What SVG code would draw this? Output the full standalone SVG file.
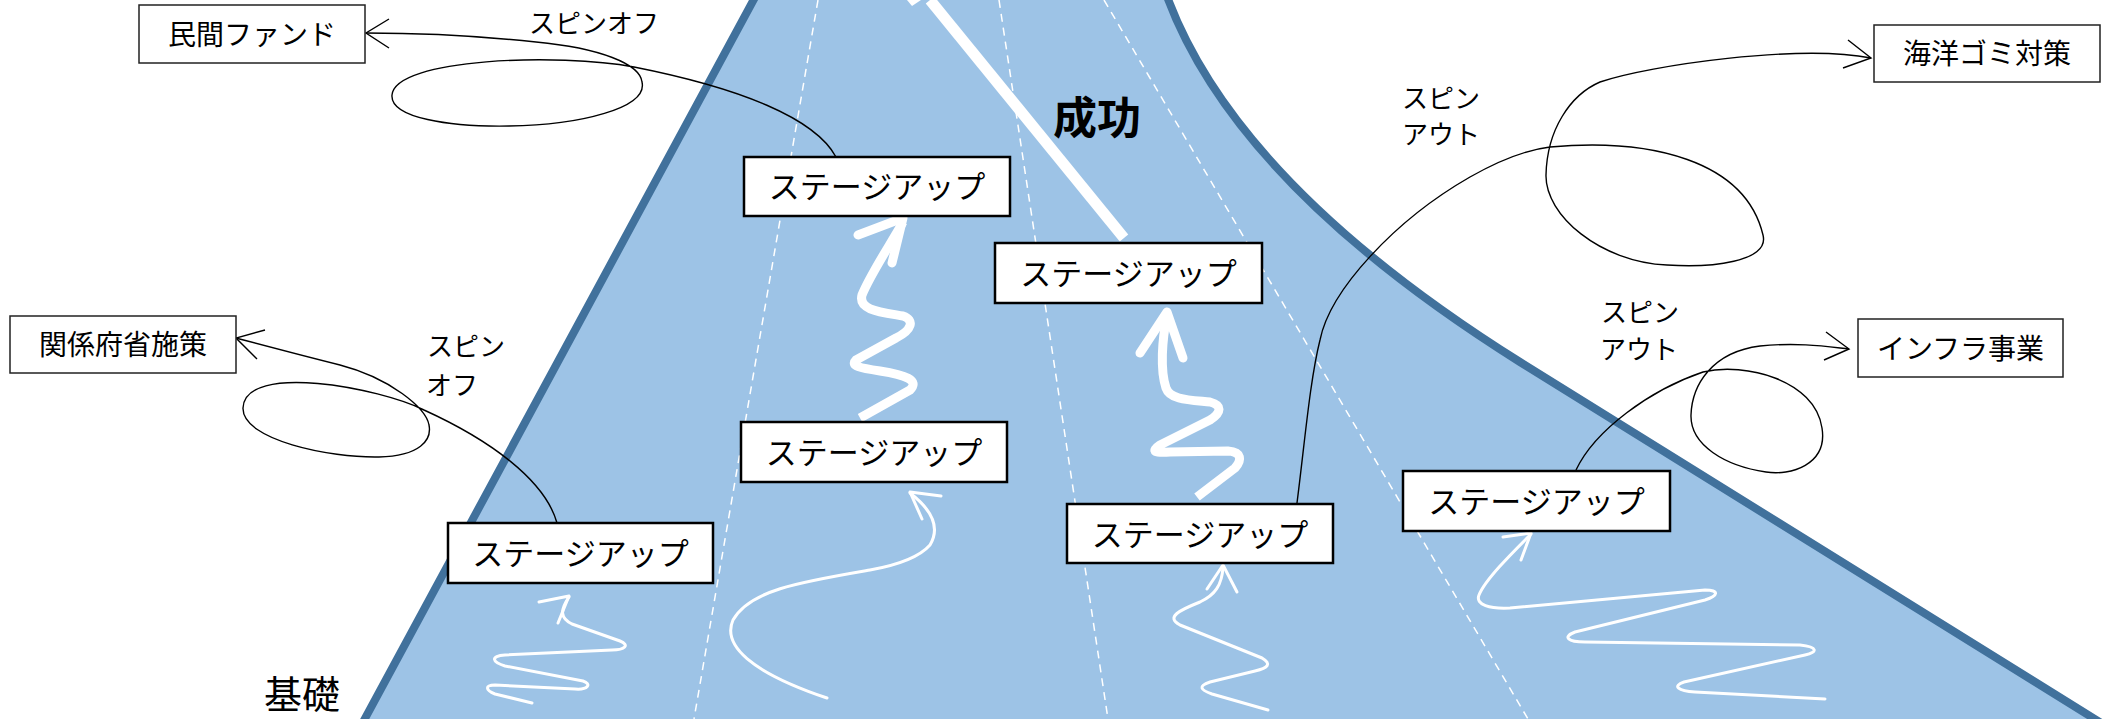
<svg xmlns="http://www.w3.org/2000/svg" width="2109" height="719" viewBox="0 0 2109 719">
<style>
text{font-family:"Noto Sans CJK JP","Liberation Sans",sans-serif;fill:#000}
.stage rect{fill:#fff;stroke:#000;stroke-width:2.5}
.stage text{font-size:31px;text-anchor:middle}
.dest rect{fill:#fff;stroke:#222;stroke-width:1.5}
.dest text{font-size:28px;text-anchor:middle}
.lbl{font-size:26px}
.dash{fill:none;stroke:#fff;stroke-width:1.5;stroke-dasharray:8 6}
.wthin{fill:none;stroke:#fff;stroke-width:3;stroke-linecap:round;stroke-linejoin:round}
.wthick{fill:none;stroke:#fff;stroke-width:9;stroke-linecap:butt;stroke-linejoin:round}
.wthickhead{fill:none;stroke:#fff;stroke-width:9;stroke-linecap:round;stroke-linejoin:round}
.conn{fill:none;stroke:#000;stroke-width:1.4}
</style>
<rect width="2109" height="719" fill="#fff"/>
<g id="mountain">
<path d="M362,724 L760,-12 L1164,-12 Q1230,180 1520,362 L2106,726 Z" fill="#9DC3E6" stroke="#41719C" stroke-width="8" stroke-linejoin="miter"/>
<path class="dash" d="M818,0 L694,719"/>
<path class="dash" d="M999,0 L1108,719"/>
<path class="dash" d="M1104,0 L1528,719"/>
</g>
<g id="success">
<path d="M930,0 L1124,238" stroke="#fff" stroke-width="11" fill="none"/>
<polygon points="907,0 921,0 912,6" fill="#fff"/>
<text x="1053" y="134" font-size="44" font-weight="bold">成功</text>
</g>
<g id="white-arrows">
<path class="wthin" d="M569,597 C560,610 560,618 572,624 L620,641 C630,645 625,650 612,650 L505,655 C490,656 492,662 505,666 L583,681 C592,684 588,690 575,689 L495,685 C485,685 485,690 495,694 L532,703"/>
<path class="wthin" d="M539,602 L569,596 L558,623"/>
<path class="wthin" d="M910,493 Q945,520 930,545 Q915,562 870,570 C800,582 750,590 733,620 C722,645 750,672 827,698"/>
<path class="wthin" d="M941,496 L910,492 L922,519"/>
<path class="wthick" d="M903,222 C890,245 870,275 862,295 C858,310 880,312 903,316 C915,320 912,330 896,338 L856,360 C850,366 860,368 880,371 C905,375 920,380 910,390 L860,418"/>
<path class="wthickhead" d="M858,235 L903,218 L892,263"/>
<path class="wthick" d="M1167,316 C1162,340 1160,370 1166,388 C1170,400 1190,400 1210,402 C1222,405 1222,412 1210,420 L1160,445 C1150,452 1155,453 1170,452 L1228,451 C1242,452 1242,460 1235,468 L1197,497"/>
<path class="wthickhead" d="M1140,353 L1167,312 L1183,358"/>
<path class="wthin" d="M1223,567 C1222,585 1215,595 1200,602 C1180,610 1165,617 1180,625 L1262,658 C1272,664 1268,668 1255,671 L1210,682 C1198,686 1200,690 1212,694 L1268,710"/>
<path class="wthin" d="M1207,589 L1223,565 L1237,592"/>
<path class="wthin" d="M1531,534 C1510,555 1485,580 1479,595 C1475,605 1490,609 1510,608 L1705,590 C1720,590 1718,596 1705,600 L1575,632 C1562,637 1568,642 1585,642 L1800,645 C1818,647 1818,652 1805,655 L1684,682 C1672,686 1678,691 1695,692 L1825,699"/>
<path class="wthin" d="M1503,537 L1531,533 L1521,560"/>
</g>
<g id="connectors">
<path class="conn" d="M836,157 C815,118 740,88 634,67 C560,53 395,58 392,95 C390,118 450,127 509,126 C580,125 648,108 642,82 C640,64 600,48 536,42 C480,36 420,33 366,33"/>
<path class="conn" d="M389,19 L366,33 L389,48"/>
<path class="conn" d="M557,523 C545,480 490,440 424,410 C380,388 245,362 243,408 C242,440 330,458 379,457 C420,456 432,440 429,425 C426,408 390,378 340,365 C300,355 270,347 236,338"/>
<path class="conn" d="M265,330 L236,338 L257,359"/>
<path class="conn" d="M1297,503 C1305,440 1310,380 1320,340 C1330,290 1395,220 1470,177 C1500,160 1525,150 1550,147 C1650,138 1745,160 1763,235 C1770,262 1710,268 1667,265 C1600,262 1545,215 1546,175 C1547,130 1570,95 1600,82 C1650,65 1800,44 1871,58"/>
<path class="conn" d="M1848,40 L1871,58 L1843,68"/>
<path class="conn" d="M1576,470 C1595,430 1650,390 1703,372 C1745,362 1815,380 1822,428 C1828,465 1790,476 1766,472 C1725,466 1690,445 1691,415 C1692,385 1712,352 1760,346 C1800,342 1830,347 1849,349"/>
<path class="conn" d="M1826,332 L1849,349 L1824,360"/>
</g>
<g id="stage-a" class="stage"><rect x="744" y="157" width="266" height="59"/><text x="877" y="198">ステージアップ</text></g>
<g id="stage-b" class="stage"><rect x="995" y="243" width="267" height="60"/><text x="1128.5" y="285">ステージアップ</text></g>
<g id="stage-c" class="stage"><rect x="741" y="422" width="266" height="60"/><text x="874" y="464">ステージアップ</text></g>
<g id="stage-d" class="stage"><rect x="448" y="523" width="265" height="60"/><text x="580.5" y="565">ステージアップ</text></g>
<g id="stage-e" class="stage"><rect x="1067" y="504" width="266" height="59"/><text x="1200" y="545.5">ステージアップ</text></g>
<g id="stage-f" class="stage"><rect x="1403" y="471" width="267" height="60"/><text x="1536.5" y="513">ステージアップ</text></g>
<g id="dest-fund" class="dest"><rect x="139" y="5" width="226" height="58"/><text x="252" y="44.6">民間ファンド</text></g>
<g id="dest-gov" class="dest"><rect x="10" y="316" width="226" height="57"/><text x="123" y="355">関係府省施策</text></g>
<g id="dest-ocean" class="dest"><rect x="1874" y="25" width="226" height="57"/><text x="1987" y="64">海洋ゴミ対策</text></g>
<g id="dest-infra" class="dest"><rect x="1858" y="319" width="205" height="58"/><text x="1960.5" y="358.6">インフラ事業</text></g>
<g id="labels">
<text class="lbl" x="529" y="33">スピンオフ</text>
<text class="lbl" x="427" y="356">スピン</text>
<text class="lbl" x="426" y="395">オフ</text>
<text class="lbl" x="1402" y="108">スピン</text>
<text class="lbl" x="1402" y="144">アウト</text>
<text class="lbl" x="1601" y="322">スピン</text>
<text class="lbl" x="1600" y="359">アウト</text>
<text x="264" y="708" font-size="38">基礎</text>
</g>
</svg>
